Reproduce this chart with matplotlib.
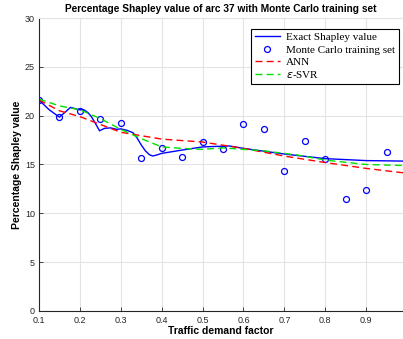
import numpy as np
import matplotlib.pyplot as plt

# Monte Carlo training samples
mc_x = [0.10, 0.15, 0.20, 0.25, 0.30, 0.35, 0.40, 0.45, 0.50, 0.55,
        0.60, 0.65, 0.70, 0.75, 0.80, 0.85, 0.90, 0.95]
mc_y = [21.6, 19.9, 20.5, 19.65, 19.3, 15.65, 16.65, 15.8, 17.3, 16.55,
        19.15, 18.6, 14.35, 17.4, 15.6, 11.45, 12.4, 16.25]

# exact Shapley value
exact_x = [0.10, 0.125, 0.15, 0.165, 0.177, 0.19, 0.20, 0.21, 0.22, 0.228, 0.238,
           0.248, 0.26, 0.275, 0.29, 0.30, 0.315, 0.33, 0.34, 0.35, 0.36, 0.37,
           0.378, 0.39, 0.40, 0.45, 0.50, 0.565, 0.60, 0.70, 0.80, 0.90, 0.99]
exact_y = [21.6, 20.6, 19.85, 20.4, 20.85, 20.7, 20.6, 20.6, 20.3, 19.9, 19.2,
           18.45, 18.7, 18.75, 18.6, 18.65, 18.5, 18.25, 17.7, 17.0, 16.4, 16.0,
           15.87, 16.0, 16.14, 16.48, 16.8, 16.9, 16.65, 16.07, 15.6, 15.4, 15.35]

# ANN prediction
ann_x = [0.10, 0.15, 0.20, 0.30, 0.40, 0.50, 0.60, 0.70, 0.80, 0.90, 0.99]
ann_y = [21.6, 20.5, 19.9, 18.3, 17.6, 17.3, 16.65, 15.86, 15.2, 14.6, 14.15]

# epsilon-SVR prediction
svr_x = [0.10, 0.15, 0.20, 0.25, 0.30, 0.35, 0.40, 0.45, 0.50, 0.55,
         0.65, 0.735, 0.80, 0.90, 0.99]
svr_y = [21.7, 21.0, 20.6, 19.7, 18.6, 17.65, 16.8, 16.65, 16.55, 16.7,
         16.4, 15.95, 15.45, 15.0, 14.9]

fig = plt.figure(figsize=(4.03, 3.39), dpi=100)
ax = fig.add_axes([0.0968, 0.0826, 0.9032, 0.8643])

ax.plot(exact_x, exact_y, color='blue', lw=1.0, label='Exact Shapley value')
ax.plot(mc_x, mc_y, 'o', mfc='none', mec='blue', ms=4.3, mew=0.9,
        label='Monte Carlo training set')
ax.plot(ann_x, ann_y, color='red', lw=1.0, dashes=(5, 3), label='ANN')
ax.plot(svr_x, svr_y, color='#00e000', lw=1.0, dashes=(5, 3),
        label=r'$\varepsilon$-SVR')

ax.set_xlim(0.1, 0.99)
ax.set_ylim(0, 30)
ax.set_xticks(np.arange(0.1, 0.95, 0.1))
ax.set_xticklabels(['0.1', '0.2', '0.3', '0.4', '0.5', '0.6', '0.7', '0.8', '0.9'])
ax.set_yticks(range(0, 31, 5))
ax.grid(True, color='#e3e3e3', lw=0.8)
ax.set_axisbelow(True)

ax.spines['right'].set_visible(False)
ax.spines['top'].set_color('#e3e3e3')
ax.spines['left'].set_color('#262626')
ax.spines['bottom'].set_color('#262626')
ax.tick_params(direction='in', length=3, width=0.6, labelsize=6.5,
               labelcolor='#262626', color='#262626')
ax.tick_params(axis='x', pad=3.5)
ax.tick_params(axis='y', pad=3)

ax.set_xlabel('Traffic demand factor', fontsize=7.5, fontweight='bold',
              family='Liberation Sans', labelpad=1)
ax.set_ylabel('Percentage Shapley value', fontsize=7.5, fontweight='bold',
              family='Liberation Sans', labelpad=2)
ax.set_title('Percentage Shapley value of arc 37 with Monte Carlo training set',
             fontsize=7.3, fontweight='bold', family='Liberation Sans', pad=4)
for lbl in ax.get_xticklabels() + ax.get_yticklabels():
    lbl.set_family('Liberation Sans')

leg = ax.legend(loc='upper right', bbox_to_anchor=(0.997, 0.975),
                prop={'family': 'Liberation Serif', 'size': 8},
                fancybox=False, edgecolor='black', framealpha=1,
                borderpad=0.35, labelspacing=0.22, handlelength=2.3,
                handletextpad=0.5, borderaxespad=0.3)
leg.get_frame().set_linewidth(0.8)

fig.savefig('out.png', dpi=100)
